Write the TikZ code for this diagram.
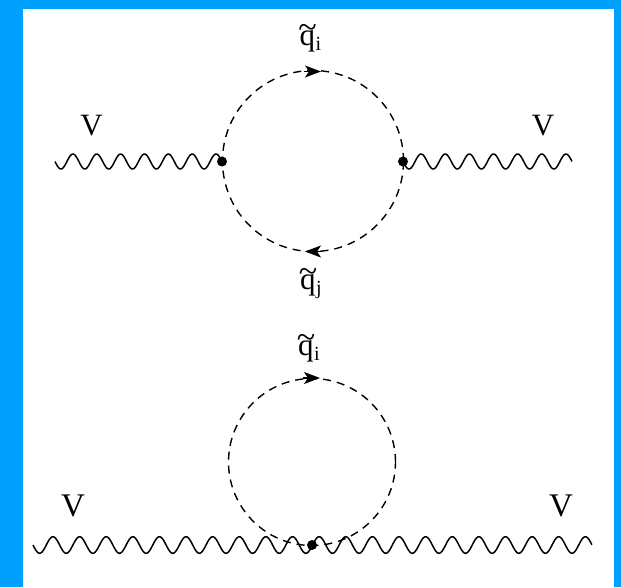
\documentclass[tikz,border=0pt]{standalone}
\usepackage{fontspec}
\setmainfont{Liberation Serif}
\usetikzlibrary{calc,arrows.meta}
\newcommand{\squark}[1]{\ooalign{q\cr\hidewidth\raisebox{7pt}{\fontsize{34}{34}\selectfont\~{}}\hidewidth\cr}\kern0.5pt\raisebox{-5pt}{\fontsize{20}{20}\selectfont #1}}
\newcommand{\wavebetween}[4]{% from, to, periods, amplitude
  \draw[wave] let \p1=(#1),\p2=(#2),\n1={\x2-\x1} in
    plot[variable=\t,domain=0:1,samples=#3*24+1] ({\x1+\n1*\t},{\y1-#4*sin(360*#3*\t)});}
\tikzset{
  x=1pt,y=-1pt,
  wave/.style={line width=1.5pt,black,line join=round},
  loopc/.style={circle,draw,line width=1.4pt,dash pattern=on 8pt off 6pt,inner sep=0pt,outer sep=0pt},
  vert/.style={circle,fill=black,inner sep=0pt,minimum size=10pt},
  lab/.style={font=\fontsize{31}{31}\selectfont,inner sep=0pt,text=black},
  labbig/.style={font=\fontsize{33}{33}\selectfont,inner sep=0pt,text=black},
  flow/.style={line width=1.3pt,-{Stealth[length=16pt,width=12pt,inset=4pt]}}
}
\begin{document}
\begin{tikzpicture}
\useasboundingbox (0,0) rectangle (621,587);
\fill[fill={rgb,255:red,0;green,160;blue,255}] (0,0) rectangle (621,587);
\fill[white] (23,9) rectangle (614,587);
% upper diagram
\node[loopc,minimum size=181pt] (loopa) at (313,161) {};
\node[vert] (a1) at (222,161.5) {};
\node[vert] (a2) at (403,161.5) {};
\coordinate (ea) at (55,161.5);
\coordinate (eb) at (572,161.5);
\wavebetween{ea}{a1.center}{7}{7.5pt}
\wavebetween{a2.center}{eb}{7}{7.5pt}
\coordinate (ta1) at (304,71.5);
\coordinate (ta2) at (321,71.5);
\draw[flow] (ta1) -- (ta2);
\coordinate (tb1) at (321,251.5);
\coordinate (tb2) at (305,251.5);
\draw[flow] (tb1) -- (tb2);
\node[lab] (va) at (91.5,126) {V};
\node[lab] (vb) at (543,126) {V};
\node[lab] (qa) at (310.5,41) {\squark{i}};
\node[lab] (qb) at (311,287) {\squark{j}};
% lower diagram
\node[loopc,minimum size=167pt] (loopb) at (312,462) {};
\node[vert] (b1) at (312,545) {};
\coordinate (ec) at (33,545);
\coordinate (ed) at (592,545);
\wavebetween{ec}{ed}{21}{8.3pt}
\coordinate (tc1) at (303,378);
\coordinate (tc2) at (320,378);
\draw[flow] (tc1) -- (tc2);
\node[labbig] (vc) at (73,506) {V};
\node[labbig] (vd) at (561,506) {V};
\node[lab] (qc) at (309,351) {\squark{i}};
\end{tikzpicture}
\end{document}
